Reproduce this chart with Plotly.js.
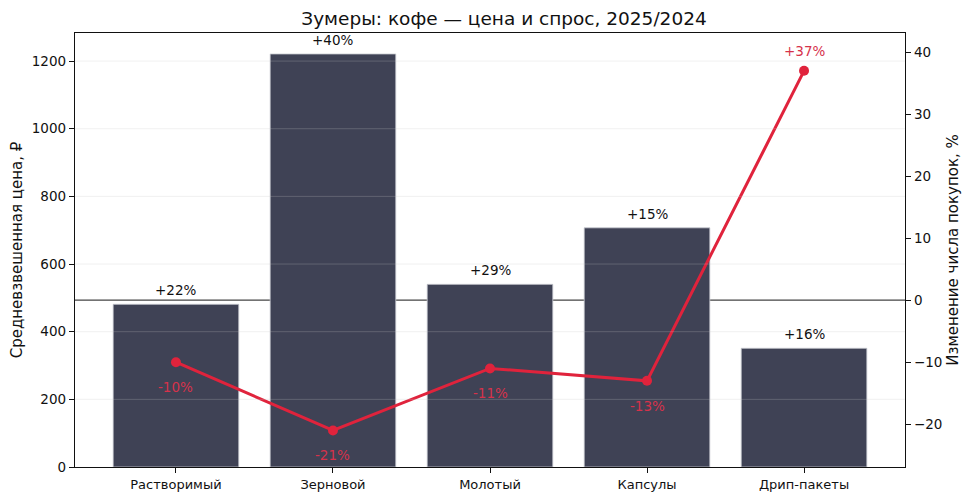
<!DOCTYPE html>
<html>
<head>
<meta charset="utf-8">
<script src="https://cdn.plot.ly/plotly-3.0.1.min.js"></script>
<style>
  html, body { margin: 0; padding: 0; background: #fff; }
  #chart { width: 974px; height: 503px; }
</style>
</head>
<body>
<div id="chart"></div>
<script>
var categories = ['Растворимый', 'Зерновой', 'Молотый', 'Капсулы', 'Дрип-пакеты'];
var prices = [481, 1221, 540, 707, 351];
var priceChange = [22, 40, 29, 15, 16];
var purchaseChange = [-10, -21, -11, -13, 37];
var priceTicks = [0, 200, 400, 600, 800, 1000, 1200];
var changeTicks = [-20, -10, 0, 10, 20, 30, 40];

function fmt(v) {
  return (v > 0 ? '+' : '') + v + '%';
}

var bars = {
  x: categories,
  y: prices,
  type: 'bar',
  width: 0.8,
  marker: {
    color: '#3f4255',
    line: { color: '#c9cbd2', width: 0.8 }
  },
  hoverinfo: 'skip'
};

var line = {
  x: categories,
  y: purchaseChange,
  yaxis: 'y2',
  type: 'scatter',
  mode: 'lines+markers',
  line: { color: '#e0233c', width: 3 },
  marker: { color: '#e0233c', size: 10 },
  hoverinfo: 'skip'
};

var annotations = [];
categories.forEach(function (c, i) {
  annotations.push({
    x: c, y: prices[i], xref: 'x', yref: 'y',
    text: fmt(priceChange[i]),
    showarrow: false, yanchor: 'bottom', yshift: 4,
    font: { family: 'DejaVu Sans', size: 13.5, color: '#111' }
  });
  var up = purchaseChange[i] > 0;
  annotations.push({
    x: c, y: purchaseChange[i], xref: 'x', yref: 'y2',
    text: fmt(purchaseChange[i]),
    showarrow: false,
    yanchor: up ? 'bottom' : 'top',
    yshift: up ? 10 : -15,
    font: { family: 'DejaVu Sans', size: 13.5, color: '#d6324b' }
  });
});

// grid lines drawn over the bars, like the reference
var shapes = priceTicks.slice(1).map(function (t) {
  return {
    type: 'line', xref: 'paper', x0: 0, x1: 1, yref: 'y', y0: t, y1: t,
    layer: 'above',
    line: { color: 'rgba(200,200,200,0.25)', width: 1 }
  };
});
shapes.push({
  type: 'line', xref: 'paper', x0: 0, x1: 1, yref: 'y2', y0: 0, y1: 0,
  layer: 'below',
  line: { color: '#444', width: 1.2 }
});

var layout = {
  width: 974,
  height: 503,
  margin: { l: 75, r: 69, t: 33, b: 36 },
  paper_bgcolor: '#fff',
  plot_bgcolor: '#fff',
  showlegend: false,
  font: { family: 'DejaVu Sans', size: 13, color: '#111' },
  title: {
    text: 'Зумеры: кофе — цена и спрос, 2025/2024',
    font: { family: 'DejaVu Sans', size: 18.5, color: '#111' },
    x: 504 / 974, xref: 'container', xanchor: 'center',
    y: 0.963, yref: 'container', yanchor: 'middle'
  },
  xaxis: {
    type: 'category',
    range: [-0.643, 4.643],
    showline: true, linecolor: '#111', linewidth: 1.2, mirror: true,
    ticks: 'outside', ticklen: 5, tickcolor: '#111',
    showgrid: false, zeroline: false,
    tickfont: { size: 13 }
  },
  yaxis: {
    range: [0, 1283],
    tickvals: priceTicks,
    showline: true, linecolor: '#111', linewidth: 1.2,
    ticks: 'outside', ticklen: 5, tickcolor: '#111',
    showgrid: false, zeroline: false,
    title: { text: 'Средневзвешенная цена, ₽', font: { size: 15 }, standoff: 5 },
    tickfont: { size: 13.5 }
  },
  yaxis2: {
    overlaying: 'y',
    side: 'right',
    range: [-26.9, 43.1],
    tickvals: changeTicks,
    ticktext: changeTicks.map(function (v) { return v < 0 ? '\u2212' + (-v) : String(v); }),
    showline: true, linecolor: '#111', linewidth: 1.2,
    ticks: 'outside', ticklen: 5, tickcolor: '#111',
    showgrid: false, zeroline: false,
    title: { text: 'Изменение числа покупок, %', font: { size: 15 }, standoff: 6 },
    tickfont: { size: 13.5 }
  },
  annotations: annotations,
  shapes: shapes
};

Plotly.newPlot('chart', [bars, line], layout, { staticPlot: true });
</script>
</body>
</html>
